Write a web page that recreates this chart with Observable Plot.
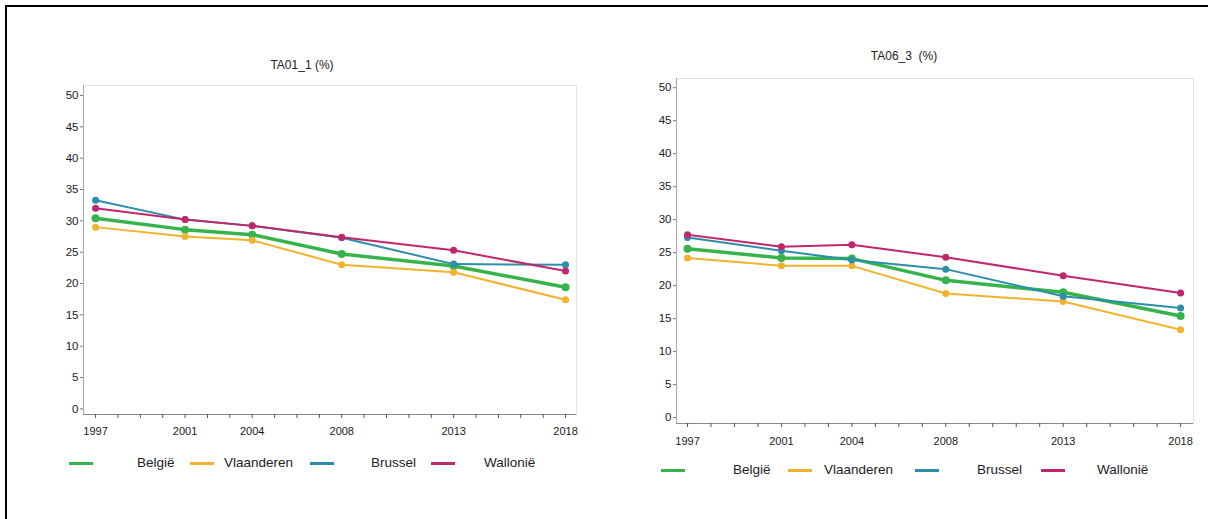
<!DOCTYPE html>
<html>
<head>
<meta charset="utf-8">
<script src="https://cdn.jsdelivr.net/npm/d3@7"></script>
<script src="https://cdn.jsdelivr.net/npm/@observablehq/plot@0.6"></script>
<style>
  html, body { margin: 0; padding: 0; background: #fff; overflow: hidden; }
  body { width: 1208px; height: 519px; position: relative; font-family: "Liberation Sans", Arial, sans-serif; color: #222; }
  .bt { position: absolute; left: 5px; top: 5px; width: 1203px; height: 2px; background: #000; }
  .bl { position: absolute; left: 5px; top: 5px; width: 2px; height: 514px; background: #000; }
  .panel { position: absolute; top: 0; }
  .title { position: absolute; font-size: 12px; white-space: nowrap; transform: translateX(-50%); }
  .leg { position: absolute; font-size: 13.5px; white-space: nowrap; }
  .sw { position: absolute; height: 5px; }
  .sw svg { display: block; }
</style>
</head>
<body>
<div class="bt"></div>
<div class="bl"></div>
<div id="left" class="panel" style="left:0px"></div>
<div id="right" class="panel" style="left:600px"></div>
<script>
// ---- data ----
const years = [1997, 2001, 2004, 2008, 2013, 2018];
const allYears = d3.range(1997, 2019);
const seriesNames = ["België", "Vlaanderen", "Brussel", "Wallonië"];
const seriesColors = ["#36b34b", "#f1b32e", "#2c8ea9", "#c1276b"];
const yTicks = [0, 5, 10, 15, 20, 25, 30, 35, 40, 45, 50];

// TA01_1 (%)
const ta01_belgie     = [30.4, 28.6, 27.8, 24.7, 22.8, 19.4];
const ta01_vlaanderen = [29.0, 27.5, 26.9, 23.0, 21.8, 17.4];
const ta01_brussel    = [33.3, 30.2, 29.2, 27.3, 23.1, 23.0];
const ta01_wallonie   = [32.0, 30.2, 29.2, 27.4, 25.3, 22.0];

// TA06_3 (%)
const ta06_belgie     = [25.6, 24.2, 24.1, 20.8, 19.0, 15.4];
const ta06_vlaanderen = [24.2, 23.0, 23.0, 18.8, 17.6, 13.3];
const ta06_brussel    = [27.3, 25.3, 23.9, 22.5, 18.4, 16.6];
const ta06_wallonie   = [27.7, 25.9, 26.2, 24.3, 21.5, 18.9];

function toRows(arrs) {
  const rows = [];
  arrs.forEach((vals, si) => vals.forEach((v, i) => rows.push({year: years[i], value: v, series: seriesNames[si]})));
  return rows;
}

function chart({rows, width, height, mL, mR, mT, mB, xDomain, yDomain, labelPad}) {
  const marks = [
    Plot.frame({stroke: "#e2e2e2"}),
    Plot.ruleX([xDomain[0]], {stroke: "#a8a8a8"}),
    Plot.ruleY([yDomain[0]], {stroke: "#8a8a8a"}),
    Plot.axisY({ticks: yTicks, tickSize: 3, tickPadding: 2, fontSize: 11.5, stroke: "#777", label: null}),
    Plot.axisX({ticks: allYears, tickSize: 4, tickFormat: () => "", stroke: "#555", label: null}),
    Plot.axisX({ticks: years, tickSize: 0, tickPadding: labelPad, tickFormat: d => String(d), fontSize: 11, label: null})
  ];
  seriesNames.forEach((s, i) => {
    const data = rows.filter(r => r.series === s);
    const big = i === 0;
    marks.push(Plot.line(data, {x: "year", y: "value", stroke: seriesColors[i], strokeWidth: big ? 3.5 : 2}));
    marks.push(Plot.dot(data, {x: "year", y: "value", fill: seriesColors[i], r: big ? 4 : 3.5, stroke: "none"}));
  });
  return Plot.plot({
    width, height,
    marginLeft: mL, marginRight: mR, marginTop: mT, marginBottom: mB,
    style: {fontFamily: "'Liberation Sans', Arial, sans-serif", color: "#1a1a1a", background: "transparent"},
    x: {type: "linear", domain: xDomain, label: null},
    y: {domain: yDomain, label: null},
    marks
  });
}

const leftRows = toRows([ta01_belgie, ta01_vlaanderen, ta01_brussel, ta01_wallonie]);
const rightRows = toRows([ta06_belgie, ta06_vlaanderen, ta06_brussel, ta06_wallonie]);

document.getElementById("left").appendChild(chart({
  rows: leftRows, width: 600, height: 519, mL: 83, mR: 24, mT: 85, mB: 105,
  xDomain: [1996.46, 2018.49], yDomain: [-0.9, 51.6], labelPad: 13
}));
document.getElementById("right").appendChild(chart({
  rows: rightRows, width: 608, height: 519, mL: 76, mR: 15, mT: 78, mB: 96,
  xDomain: [1996.53, 2018.55], yDomain: [-0.9, 51.4], labelPad: 14
}));

// titles
function addText(cls, text, x, y) {
  const d = document.createElement("div");
  d.className = cls; d.textContent = text;
  d.style.left = x + "px"; d.style.top = y + "px";
  document.body.appendChild(d);
}
addText("title", "TA01_1 (%)", 302, 58);
addText("title", "TA06_3\u00a0 (%)", 904, 49);

// legends
function legend(swX, labX, y) {
  seriesNames.forEach((s, i) => {
    const sw = document.createElement("div");
    sw.className = "sw";
    sw.style.left = swX[i] + "px"; sw.style.top = (y - 2) + "px";
    sw.innerHTML = `<svg width="24" height="5"><line x1="0" x2="24" y1="2.5" y2="2.5" stroke="${seriesColors[i]}" stroke-width="3"/>`
      + [4, 9, 14, 19].map(cx => `<circle cx="${cx}" cy="2.5" r="1.6" fill="${seriesColors[i]}"/>`).join("") + `</svg>`;
    document.body.appendChild(sw);
    const lab = document.createElement("div");
    lab.className = "leg"; lab.textContent = s;
    lab.style.left = labX[i] + "px"; lab.style.top = (y - 8) + "px";
    document.body.appendChild(lab);
  });
}
legend([69, 190, 310, 431], [137, 224, 371, 484], 463);
legend([661, 788, 915, 1041], [733, 824, 977, 1097], 470);
</script>
</body>
</html>
